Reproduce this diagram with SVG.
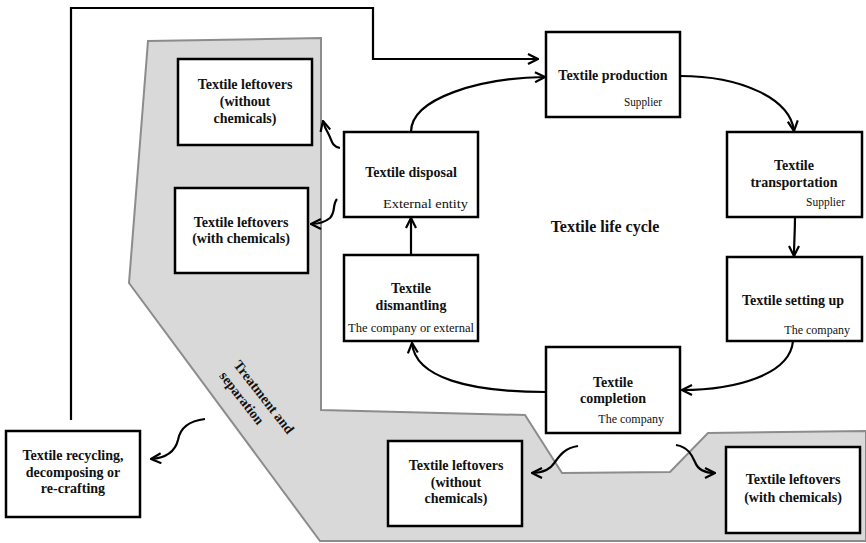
<svg xmlns="http://www.w3.org/2000/svg" width="866" height="543" viewBox="0 0 866 543">
<style>
.box{fill:#fff;stroke:#000;stroke-width:2.5}
.b{font-family:"Liberation Serif",serif;font-weight:bold;font-size:14px;fill:#111;text-anchor:middle}
.s{font-family:"Liberation Serif",serif;font-size:12px;fill:#111}
.c{fill:none;stroke:#000;stroke-width:2.2}
</style>
<defs>
<marker id="ah" viewBox="0 0 12 12" refX="11" refY="6" markerWidth="12" markerHeight="12" markerUnits="userSpaceOnUse" orient="auto">
<path d="M1,1 L11,6 L1,11" fill="none" stroke="#000" stroke-width="2.2"/>
</marker>
</defs>
<rect width="866" height="543" fill="#fff"/>
<polygon id="zone" points="148,41 321,38 321,410 525,415 562,473 670,472 708,433 866,431 866,541 320,541 129,283" fill="#d9d9d9" stroke="#8c8c8c" stroke-width="2"/>
<text class="b" transform="translate(233,365) rotate(52)"><tspan x="0" y="0" text-anchor="start">Treatment and</tspan><tspan x="0" y="18" text-anchor="start">separation</tspan></text>
<g id="connectors">
<path class="c" d="M71,420 L71,8 L373,8 L373,59 L538,59" marker-end="url(#ah)"/>
<path class="c" d="M411,132 C411,98 480,78 545,77" marker-end="url(#ah)"/>
<path class="c" d="M680,76 C740,76 790,98 794,131" marker-end="url(#ah)"/>
<path class="c" d="M795,217 C795,230 794,245 794,256" marker-end="url(#ah)"/>
<path class="c" d="M793,341 C790,375 735,390 682,390" marker-end="url(#ah)"/>
<path class="c" d="M546,392 C470,392 415,378 412,343" marker-end="url(#ah)"/>
<path class="c" d="M411,255 L411,218" marker-end="url(#ah)"/>
<path class="c" d="M340,148 C331,146 332,140 328,133 C325,128 324,125 323,121" marker-end="url(#ah)"/>
<path class="c" d="M337,199 C332,205 336,212 330,218 C325,222 318,224 311,224" marker-end="url(#ah)"/>
<path class="c" d="M205,419 C188,421 180,428 178,440 C175,452 165,458 151,459" marker-end="url(#ah)"/>
<path class="c" d="M578,446 C565,448 560,455 555,462 C550,470 542,473 532,473" marker-end="url(#ah)"/>
<path class="c" d="M676,445 C688,447 692,455 695,462 C698,470 705,473 715,473" marker-end="url(#ah)"/>
</g>
<g id="production"><rect class="box" x="546" y="32" width="134" height="85"/><text class="b" x="613" y="80">Textile production</text><text class="s" x="624" y="106" textLength="38" lengthAdjust="spacingAndGlyphs">Supplier</text></g>
<g id="transportation"><rect class="box" x="727" y="132" width="135" height="85"/><text class="b" x="794" y="170">Textile</text><text class="b" x="794" y="187">transportation</text><text class="s" x="806" y="206" textLength="39" lengthAdjust="spacingAndGlyphs">Supplier</text></g>
<g id="settingup"><rect class="box" x="727" y="257" width="135" height="84"/><text class="b" x="793" y="305">Textile setting up</text><text class="s" x="850" y="334" text-anchor="end">The company</text></g>
<g id="completion"><rect class="box" x="546" y="347" width="134" height="86"/><text class="b" x="613" y="387">Textile</text><text class="b" x="613" y="403">completion</text><text class="s" x="664" y="423" text-anchor="end">The company</text></g>
<g id="dismantling"><rect class="box" x="344" y="255" width="134" height="86"/><text class="b" x="411" y="293">Textile</text><text class="b" x="411" y="310">dismantling</text><text class="s" x="348" y="332" textLength="126" lengthAdjust="spacingAndGlyphs">The company or external</text></g>
<g id="disposal"><rect class="box" x="344" y="132" width="134" height="85"/><text class="b" x="411" y="177">Textile disposal</text><text class="s" x="383" y="208" textLength="85" lengthAdjust="spacingAndGlyphs" style="font-size:13px">External entity</text></g>
<g id="cycle"><text class="b" x="605" y="232" style="font-size:16px">Textile life cycle</text></g>
<g id="leftovers-without-1"><rect class="box" x="178" y="59" width="134" height="86"/><text class="b" x="245" y="89">Textile leftovers</text><text class="b" x="245" y="106">(without</text><text class="b" x="245" y="123">chemicals)</text></g>
<g id="leftovers-with-1"><rect class="box" x="175" y="188" width="133" height="85"/><text class="b" x="241" y="227">Textile leftovers</text><text class="b" x="241" y="243">(with chemicals)</text></g>
<g id="recycling"><rect class="box" x="6" y="431" width="134" height="86"/><text class="b" x="73" y="460">Textile recycling,</text><text class="b" x="73" y="477">decomposing or</text><text class="b" x="73" y="493">re-crafting</text></g>
<g id="leftovers-without-2"><rect class="box" x="388" y="441" width="134" height="85"/><text class="b" x="456" y="470">Textile leftovers</text><text class="b" x="456" y="487">(without</text><text class="b" x="456" y="503">chemicals)</text></g>
<g id="leftovers-with-2"><rect class="box" x="726" y="447" width="134" height="86"/><text class="b" x="793" y="484">Textile leftovers</text><text class="b" x="793" y="502">(with chemicals)</text></g>
</svg>
